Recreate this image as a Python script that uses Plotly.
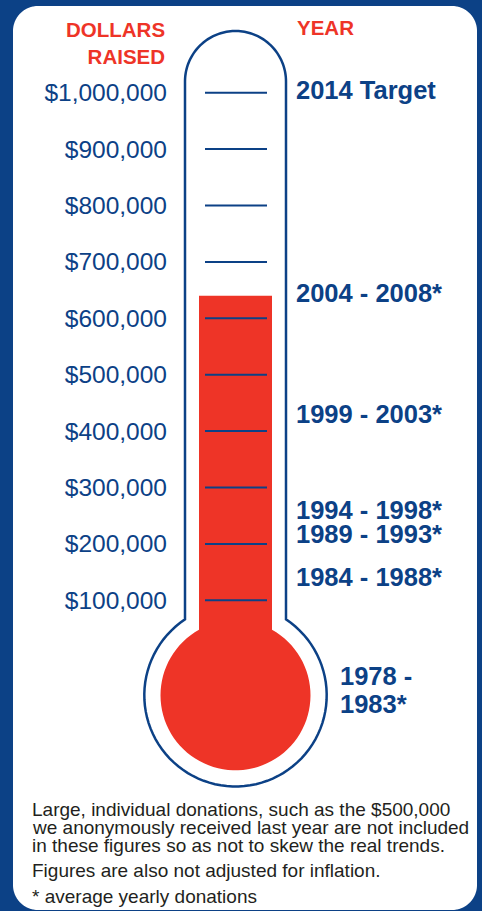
import numpy as np
import plotly.graph_objects as go

# ---------------- data ----------------
periods = ["2014 Target", "2004 - 2008*", "1999 - 2003*", "1994 - 1998*",
           "1989 - 1993*", "1984 - 1988*"]
period_amounts = [1000000, 640000, 425000, 256000, 213000, 136000]
earliest_period_lines = ["1978 -", "1983*"]   # shown beside the bulb
tick_values = [100000, 200000, 300000, 400000, 500000,
               600000, 700000, 800000, 900000, 1000000]
tick_labels = ["$" + f"{v:,}" for v in tick_values]
current_total = 640000                        # thermometer fill level
footnotes = [
    "Large, individual donations, such as the $500,000",
    "we anonymously received last year are not included",
    "in these figures so as not to skew the real trends.",
    "Figures are also not adjusted for inflation.",
    "* average yearly donations",
]

# ---------------- style ----------------
BLUE = "#0c4186"
RED = "#ee3427"
TEXT = "#231f20"
FONT = "Liberation Sans, Arial, sans-serif"

W, H = 482, 911
ZERO_PX, PX_PER_100K = 656.7, 56.4
Y_TOP = ZERO_PX / PX_PER_100K * 1e5
Y_BOT = -(H - ZERO_PX) / PX_PER_100K * 1e5


def yv(py):
    return Y_TOP - py * (Y_TOP - Y_BOT) / H


def ypx(v):
    return (Y_TOP - v) * H / (Y_TOP - Y_BOT)


def arc(cx, cy, r, a0, a1, n=80):
    t = np.radians(np.linspace(a0, a1, n))
    return list(zip(cx + r * np.cos(t), cy + r * np.sin(t)))


def to_path(points):
    return "M " + " L ".join(f"{x:.2f},{yv(y):.1f}" for x, y in points) + " Z"


CX = 235.5
TUBE_R, DOME_CY = 50.5, 81.5
BULB_CY, BULB_R = 695.3, 91.2
IN_HALF, IN_R = 36.5, 75.0

shapes = []

# white rounded panel
x0, x1, y0, y1, r = 13, 477, 6, 910, 25
panel = (arc(x0 + r, y0 + r, r, 180, 270) + arc(x1 - r, y0 + r, r, 270, 360)
         + arc(x1 - r, y1 - r, r, 0, 90) + arc(x0 + r, y1 - r, r, 90, 180))
shapes.append(dict(type="path", path=to_path(panel), xref="x", yref="y",
                   fillcolor="white", line=dict(width=0), layer="below"))

# thermometer outline
jy = BULB_CY - np.sqrt(BULB_R ** 2 - TUBE_R ** 2)
a = np.degrees(np.arctan2(jy - BULB_CY, TUBE_R))
outline = ([(CX - TUBE_R, jy)] + arc(CX, DOME_CY, TUBE_R, 180, 360)
           + [(CX + TUBE_R, jy)] + arc(CX, BULB_CY, BULB_R, a, 180 - a))
shapes.append(dict(type="path", path=to_path(outline), xref="x", yref="y",
                   fillcolor="white", line=dict(color=BLUE, width=2.5), layer="below"))

# red fill up to the current total
jy2 = BULB_CY - np.sqrt(IN_R ** 2 - IN_HALF ** 2)
a2 = np.degrees(np.arctan2(jy2 - BULB_CY, IN_HALF))
level = ypx(current_total)
fill = ([(CX - IN_HALF, jy2), (CX - IN_HALF, level), (CX + IN_HALF, level),
         (CX + IN_HALF, jy2)] + arc(CX, BULB_CY, IN_R, a2, 180 - a2))
shapes.append(dict(type="path", path=to_path(fill), xref="x", yref="y",
                   fillcolor=RED, line=dict(width=0), layer="below"))

# scale marks
for v in tick_values:
    shapes.append(dict(type="line", x0=205, x1=267, y0=v, y1=v, xref="x", yref="y",
                       line=dict(color=BLUE, width=2), layer="below"))

fig = go.Figure()

label_font = dict(family=FONT, size=25.5, color=BLUE, weight="bold")

# period labels
fig.add_trace(go.Scatter(
    x=[296] * len(periods), y=period_amounts, mode="text", text=periods,
    textposition="middle right", hoverinfo="skip", showlegend=False,
    textfont=label_font,
))
fig.add_trace(go.Scatter(
    x=[340, 340], y=[yv(BULB_CY - 16.5), yv(BULB_CY + 11)], mode="text",
    text=earliest_period_lines, textposition="middle right", hoverinfo="skip",
    showlegend=False, textfont=label_font,
))

annotations = [
    dict(text="DOLLARS<br>RAISED", x=167 / W, y=1 - 42.5 / H, xref="paper", yref="paper",
         xanchor="right", yanchor="middle", align="right", showarrow=False,
         font=dict(family=FONT, size=20.5, color=RED, weight="bold")),
    dict(text="YEAR", x=295 / W, y=1 - 27.5 / H, xref="paper", yref="paper",
         xanchor="left", yanchor="middle", showarrow=False,
         font=dict(family=FONT, size=20.5, color=RED, weight="bold")),
]
for txt, py in zip(footnotes, [809, 827.5, 845.5, 870, 896.5]):
    annotations.append(dict(text=txt, x=30 / W, y=1 - py / H, xref="paper", yref="paper",
                            xanchor="left", yanchor="middle", showarrow=False,
                            font=dict(family=FONT, size=19, color=TEXT)))

fig.update_layout(
    width=W, height=H, margin=dict(l=0, r=0, t=0, b=0),
    paper_bgcolor=BLUE, plot_bgcolor="rgba(0,0,0,0)",
    shapes=shapes, annotations=annotations,
    xaxis=dict(range=[0, W], visible=False, fixedrange=True),
    yaxis=dict(range=[Y_BOT, Y_TOP], anchor="free", position=167 / W,
               tickmode="array", tickvals=tick_values, ticktext=tick_labels,
               showgrid=False, zeroline=False, showline=False, ticks="", ticklen=0,
               tickfont=dict(family=FONT, size=24.5, color=BLUE), fixedrange=True),
    showlegend=False,
)

fig.write_html("out.html", config={"displayModeBar": False},
               post_script="document.body.style.margin='0';document.body.style.overflow='hidden';")
